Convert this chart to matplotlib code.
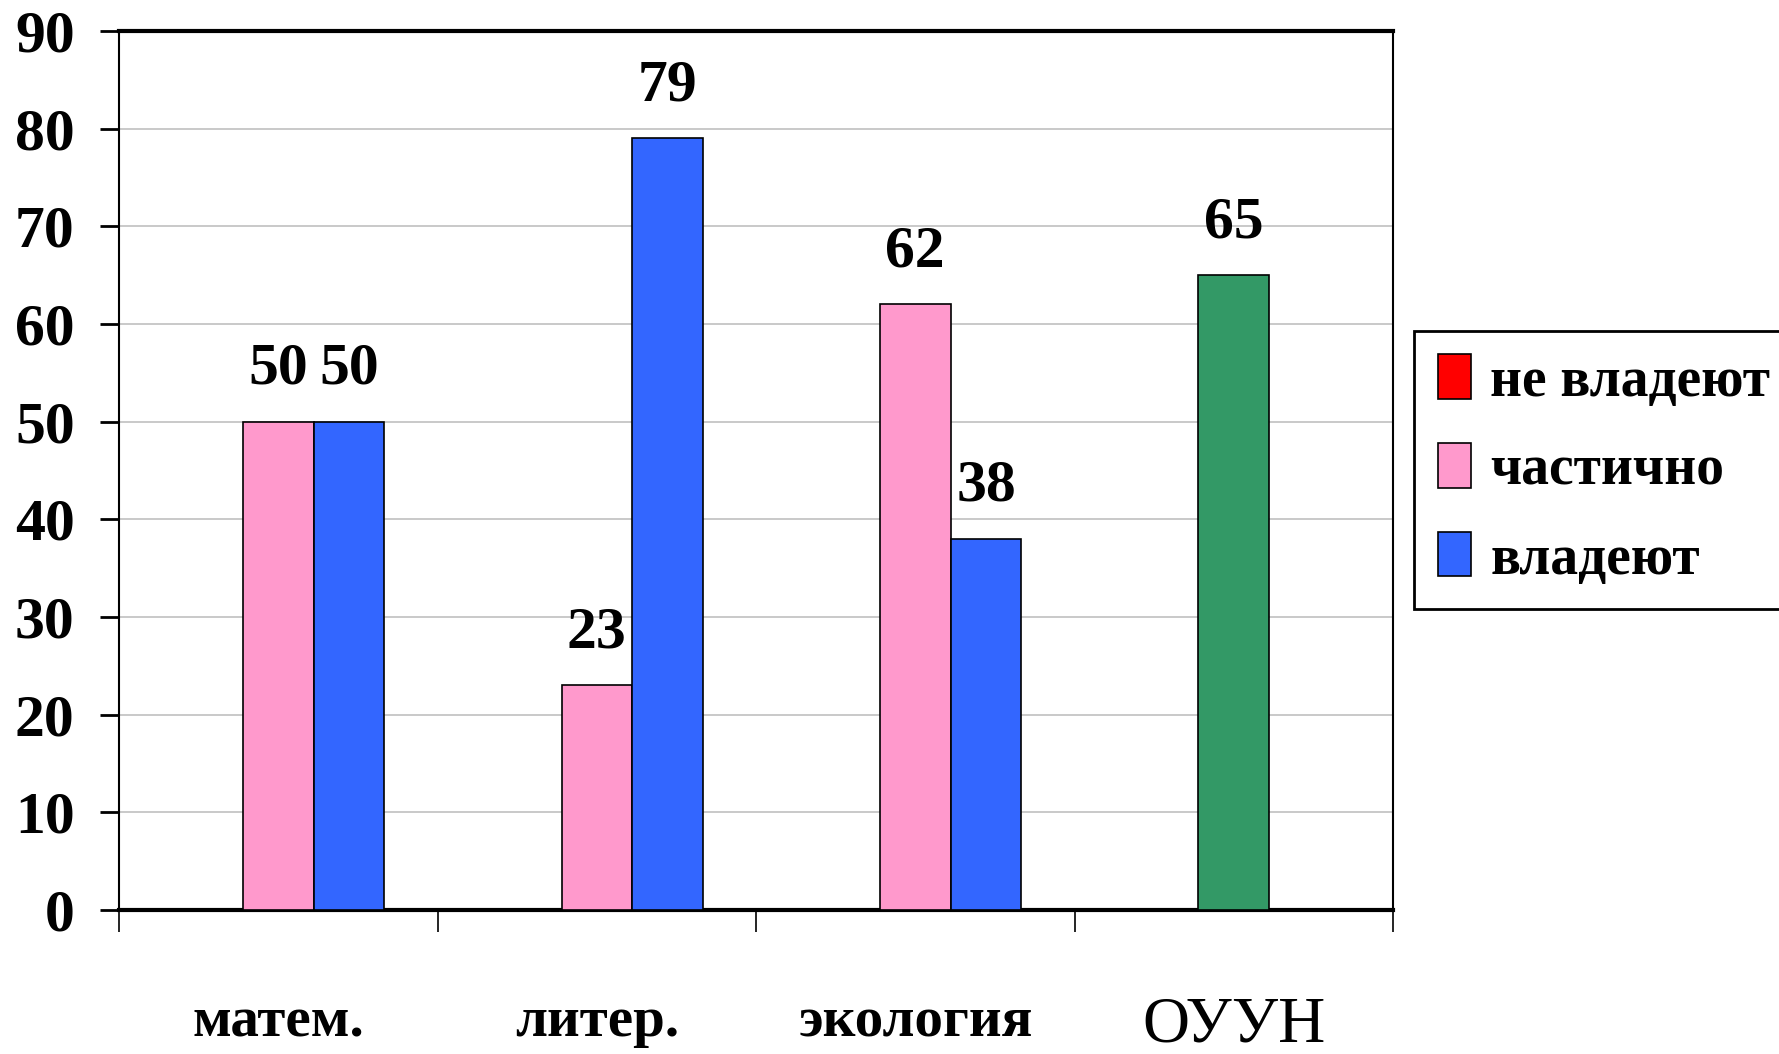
import matplotlib.pyplot as plt
import numpy as np

categories = ['матем.', 'литер.', 'экология', 'ОУУН']
ne_vladeyut = [0, 0, 0, 0]
chastichno = [50, 23, 62, 65]
vladeyut = [50, 79, 38, 0]
series_names = ['не владеют', 'частично', 'владеют']

plt.rcParams['font.family'] = ['Liberation Serif', 'DejaVu Serif']

fig = plt.figure(figsize=(17.79, 10.54), dpi=100)
ax = fig.add_axes([0.067, 0.1366, 0.716, 0.834])

x = np.arange(len(categories))
w = 0.222
pink_colors = ['#FF99CC', '#FF99CC', '#FF99CC', '#339966']
b1 = ax.bar(x - w, ne_vladeyut, w, color='#FF0000', edgecolor='black', lw=1.2, label=series_names[0], zorder=3)
b2 = ax.bar(x, chastichno, w, color=pink_colors, edgecolor='black', lw=1.2, label=series_names[1], zorder=3)
b3 = ax.bar(x + w, vladeyut, w, color='#3366FF', edgecolor='black', lw=1.2, label=series_names[2], zorder=3)

# подписи значений
for bars, vals in [(b2, chastichno), (b3, vladeyut)]:
    for rect, v in zip(bars, vals):
        if v == 0:
            continue
        ax.annotate(str(v), (rect.get_x() + rect.get_width() / 2, v),
                    xytext=(0, 18), textcoords='offset points',
                    ha='center', va='bottom', fontsize=43, fontweight='bold')

ax.set_xlim(-0.5, len(categories) - 0.5)
ax.set_ylim(0, 90)
ax.set_yticks(range(0, 91, 10))
ax.yaxis.grid(True, color='#c0c0c0', lw=1.2, zorder=0)
ax.tick_params(axis='y', length=14, width=2, pad=18, labelsize=43)
for t in ax.get_yticklabels():
    t.set_fontweight('bold')

ax.set_xticks(x)
ax.set_xticklabels(categories)
ax.set_xticks(np.arange(-0.5, len(categories), 1), minor=True)
ax.tick_params(axis='x', which='major', length=0, pad=62, labelsize=41)
ax.tick_params(axis='x', which='minor', length=16, width=1.2)
for i, t in enumerate(ax.get_xticklabels()):
    if categories[i] == 'ОУУН':
        t.set_fontsize(47)
    else:
        t.set_fontweight('bold')

ax.spines['top'].set_linewidth(3)
ax.spines['bottom'].set_linewidth(3)
ax.spines['left'].set_linewidth(1.5)
ax.spines['right'].set_linewidth(1.5)

leg = ax.legend(loc='upper left', bbox_to_anchor=(0.795, 0.686), bbox_transform=fig.transFigure,
                borderaxespad=0, fancybox=False, edgecolor='black', framealpha=1,
                prop={'size': 40, 'weight': 'bold'}, handlelength=0.6, handleheight=0.85,
                handletextpad=0.35, labelspacing=0.64, borderpad=0.42)
leg.get_frame().set_linewidth(2)

fig.savefig('out.png', dpi=100)
